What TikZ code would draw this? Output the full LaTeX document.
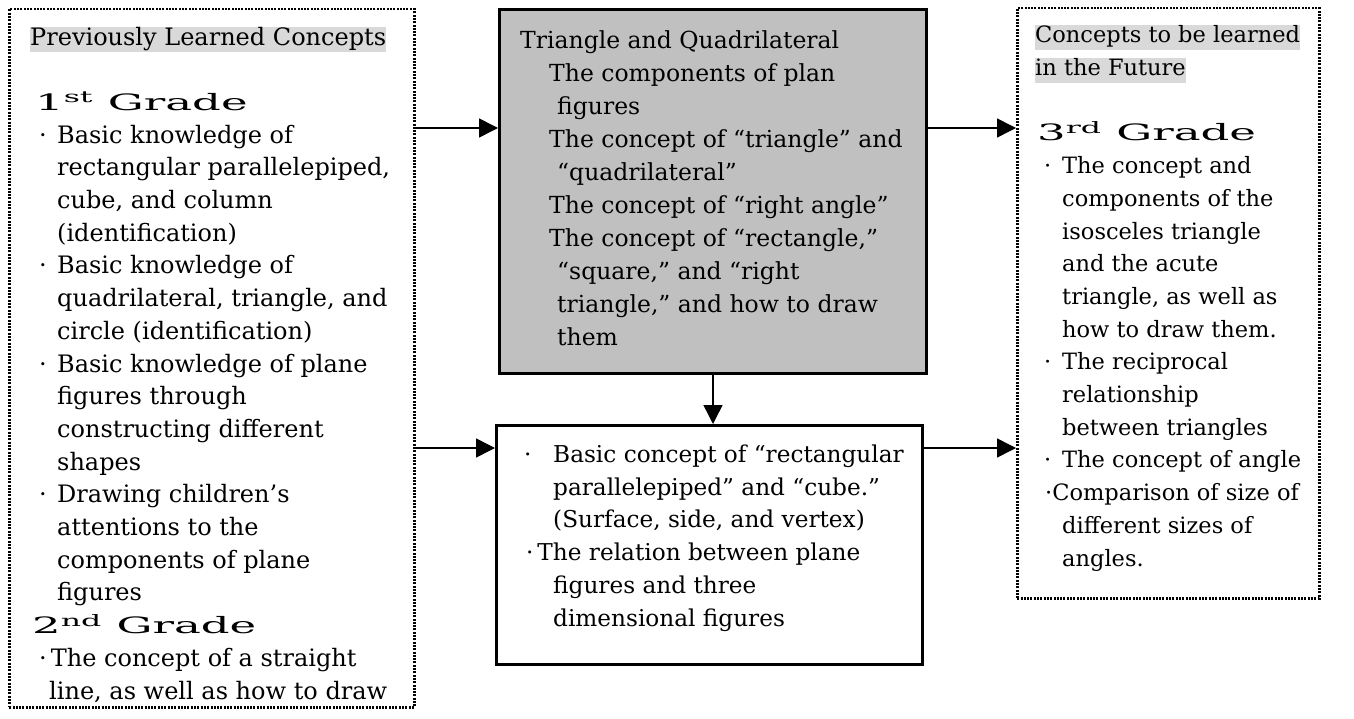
\documentclass[tikz,border=0pt]{standalone}
\usepackage{fontspec}
\setmainfont{DejaVu Serif}
\usepackage{graphicx}
\usetikzlibrary{arrows.meta}

\definecolor{boxgray}{RGB}{192,192,192}
\definecolor{hlgray}{RGB}{217,217,217}
\newcommand{\hl}[1]{{\setlength{\fboxsep}{0pt}\colorbox{hlgray}{\rule[-7pt]{0pt}{25pt}#1}}}
\newcommand{\grade}[2]{{\fontsize{22.5}{32.7}\selectfont\scalebox{2}[1]{#1\textsuperscript{#2} Grade}}}
\newcommand{\bl}{\hspace*{9pt}\makebox[18pt][l]{·}}
\newcommand{\ct}{\hspace*{27pt}}

\begin{document}
\begin{tikzpicture}[x=1pt,y=-1pt,
  dotbox/.style={draw, line width=2.5pt, dash pattern=on 2pt off 1.3pt, anchor=north west, inner sep=0},
  solidbox/.style={draw, line width=3pt, anchor=north west, inner sep=0},
  txt/.style={anchor=base west, inner sep=0, align=left, font=\fontsize{22.5}{32.7}\selectfont},
  arr/.style={line width=1.5pt, -{Triangle[length=19pt,width=19pt]}}]
\useasboundingbox (0,0) rectangle (1354,719);

% Boxes
\node[dotbox, minimum width=405pt, minimum height=698pt] (prev) at (8,8) {};
\node[solidbox, fill=boxgray, minimum width=427pt, minimum height=364pt] (tq) at (498,8) {};
\node[solidbox, minimum width=426pt, minimum height=239pt] (solid) at (495,424) {};
\node[dotbox, minimum width=302pt, minimum height=590pt] (future) at (1016,7) {};

% Texts (anchored at the last line)
\node[txt, font=\fontsize{24}{32.7}\selectfont] (prevtext) at (30,699) {\hl{Previously Learned Concepts}\\[32.7pt]
\hspace*{5pt}\grade{1}{st}\\
\bl Basic knowledge of\\
\ct rectangular parallelepiped,\\
\ct cube, and column\\
\ct (identification)\\
\bl Basic knowledge of\\
\ct quadrilateral, triangle, and\\
\ct circle (identification)\\
\bl Basic knowledge of plane\\
\ct figures through\\
\ct constructing different\\
\ct shapes\\
\bl Drawing children’s\\
\ct attentions to the\\
\ct components of plane\\
\ct figures\\
\hspace*{2pt}\grade{2}{nd}\\
\hspace*{9pt}·\,The concept of a straight\\
\hspace*{19pt}line, as well as how to draw};

\node[txt, font=\fontsize{23.5}{33}\selectfont] (tqtext) at (520,345) {Triangle and Quadrilateral\\
\hspace*{29pt}The components of plan\\
\hspace*{37pt}figures\\
\hspace*{29pt}The concept of “triangle” and\\
\hspace*{37pt}“quadrilateral”\\
\hspace*{29pt}The concept of “right angle”\\
\hspace*{29pt}The concept of “rectangle,”\\
\hspace*{37pt}“square,” and “right\\
\hspace*{37pt}triangle,” and how to draw\\
\hspace*{37pt}them};

\node[txt, font=\fontsize{23.2}{32.7}\selectfont] (solidtext) at (524,626) {\makebox[29pt][l]{·}Basic concept of “rectangular\\
\hspace*{29pt}parallelepiped” and “cube.”\\
\hspace*{29pt}(Surface, side, and vertex)\\
\hspace*{2pt}·\,The relation between plane\\
\hspace*{29pt}figures and three\\
\hspace*{29pt}dimensional figures};

\node[txt] (futuretext) at (1035,566) {\hl{Concepts to be learned}\\
\hl{in the Future}\\[32.7pt]
\hspace*{2pt}\grade{3}{rd}\\
\bl The concept and\\
\ct components of the\\
\ct isosceles triangle\\
\ct and the acute\\
\ct triangle, as well as\\
\ct how to draw them.\\
\bl The reciprocal\\
\ct relationship\\
\ct between triangles\\
\bl The concept of angle\\
\hspace*{10pt}·Comparison of size of\\
\ct different sizes of\\
\ct angles.};

% Arrows
\coordinate (upper) at (0,128);
\coordinate (lower) at (0,448);
\draw[arr] (prev.east |- upper) -- (tq.west |- upper);
\draw[arr] (prev.east |- lower) -- (solid.west |- lower);
\draw[arr] (tq.east |- upper) -- (future.west |- upper);
\draw[arr] (solid.east |- lower) -- (future.west |- lower);
\draw[arr] (tq.south) -- (tq.south |- solid.north);
\end{tikzpicture}
\end{document}
